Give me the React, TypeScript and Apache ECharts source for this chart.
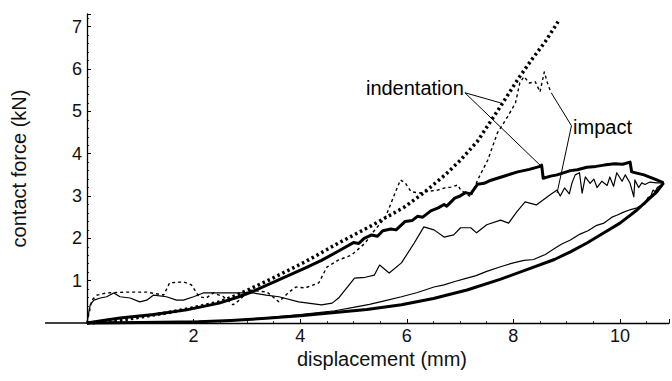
import React, { useEffect, useRef } from "react";
import * as echarts from "echarts";

// ---- data (displacement mm, contact force kN) ----
const xTickLabels = [2, 4, 6, 8, 10];
const yTickLabels = [1, 2, 3, 4, 5, 6, 7];

const indentationLoading: number[][] = [
  [0, 0], [0.3, 0.06], [0.62, 0.12], [1.25, 0.2], [1.87, 0.31], [2.48, 0.47], [2.85, 0.62],
  [3.12, 0.75], [3.47, 0.95], [4.1, 1.3], [4.4, 1.48], [4.72, 1.7], [5.0, 1.9], [5.1, 1.88],
  [5.2, 2.0], [5.34, 2.08], [5.45, 2.05], [5.55, 2.18], [5.7, 2.22], [5.8, 2.2], [5.97, 2.4],
  [6.1, 2.42], [6.2, 2.52], [6.3, 2.5], [6.45, 2.65], [6.59, 2.72], [6.7, 2.8], [6.75, 2.76],
  [6.9, 2.95], [7.0, 3.0], [7.1, 3.08], [7.2, 3.05], [7.33, 3.28], [7.45, 3.3], [7.55, 3.36],
  [7.7, 3.42], [7.85, 3.48], [8.08, 3.57], [8.3, 3.63], [8.5, 3.7], [8.53, 3.73], [8.56, 3.42],
  [8.7, 3.47], [8.82, 3.5], [9.07, 3.6], [9.2, 3.62], [9.38, 3.68], [9.55, 3.7], [9.7, 3.73],
  [9.9, 3.76], [10.05, 3.75], [10.19, 3.8], [10.22, 3.57], [10.45, 3.5], [10.69, 3.38], [10.82, 3.31],
];

const indentationUnloading: number[][] = [
  [10.82, 3.31], [10.69, 3.1], [10.5, 2.88], [10.32, 2.67], [10.0, 2.36], [9.7, 2.13], [9.38, 1.89],
  [9.07, 1.68], [8.77, 1.5], [8.38, 1.32], [7.75, 1.03], [7.13, 0.78], [6.5, 0.58], [5.9, 0.43],
  [5.25, 0.32], [4.6, 0.24], [4.0, 0.17], [3.36, 0.11], [2.7, 0.06], [2.1, 0.03], [1.0, 0.01], [0, 0],
];

const impactLoading: number[][] = [
  [0, 0], [0.04, 0.3], [0.06, 0.43], [0.13, 0.54], [0.25, 0.59], [0.37, 0.62], [0.5, 0.71],
  [0.62, 0.62], [0.81, 0.59], [0.99, 0.5], [1.12, 0.54], [1.25, 0.66], [1.49, 0.62], [1.68, 0.54],
  [1.81, 0.54], [2.0, 0.62], [2.18, 0.71], [2.48, 0.71], [2.8, 0.71], [3.12, 0.71], [3.36, 0.66],
  [3.6, 0.62], [3.97, 0.5], [4.4, 0.43], [4.6, 0.47], [4.72, 0.59], [5.02, 1.06], [5.22, 1.08],
  [5.39, 1.13], [5.49, 1.37], [5.67, 1.18], [5.9, 1.42], [6.14, 1.89], [6.32, 2.27], [6.51, 2.2],
  [6.7, 2.03], [6.88, 2.08], [7.01, 2.25], [7.2, 2.25], [7.31, 2.13], [7.5, 2.32], [7.76, 2.43],
  [7.91, 2.36], [8.06, 2.62], [8.22, 2.86], [8.43, 2.79], [8.69, 3.03], [8.82, 3.14], [8.88, 3.0],
  [8.96, 3.19], [9.05, 3.05], [9.1, 3.31], [9.16, 3.5], [9.24, 3.55], [9.29, 3.07], [9.35, 3.45],
  [9.44, 3.3], [9.51, 3.4], [9.57, 3.2], [9.66, 3.35], [9.76, 3.25], [9.81, 3.45], [9.88, 3.23],
  [9.94, 3.55], [10.04, 3.35], [10.1, 3.5], [10.19, 3.3], [10.26, 2.98], [10.28, 3.38], [10.35, 3.2],
  [10.41, 3.31], [10.47, 3.27], [10.56, 3.33], [10.69, 3.31], [10.82, 3.31],
];

const impactUnloading: number[][] = [
  [10.82, 3.31], [10.75, 3.24], [10.7, 3.2], [10.66, 3.1], [10.62, 3.14], [10.58, 3.0], [10.52, 2.96],
  [10.47, 2.82], [10.4, 2.78], [10.32, 2.72], [10.2, 2.68], [10.07, 2.62], [9.95, 2.55], [9.85, 2.5],
  [9.7, 2.36], [9.55, 2.3], [9.4, 2.18], [9.25, 2.1], [9.07, 1.96], [8.9, 1.86], [8.75, 1.74],
  [8.6, 1.62], [8.38, 1.5], [8.2, 1.48], [8.0, 1.42], [7.76, 1.33], [7.5, 1.22], [7.3, 1.12],
  [7.13, 1.06], [6.9, 0.98], [6.7, 0.9], [6.51, 0.85], [6.2, 0.72], [5.9, 0.62], [5.6, 0.53],
  [5.3, 0.44], [5.0, 0.37], [4.65, 0.29], [4.3, 0.24], [4.0, 0.2], [3.6, 0.15], [3.2, 0.1],
  [2.5, 0.05], [1.5, 0.02], [0.5, 0.0], [0, 0],
];

const indentationModel: number[][] = [
  [0, 0], [0.5, 0.04], [1, 0.14], [1.5, 0.24], [2, 0.36], [2.5, 0.5], [2.85, 0.68], [3.47, 1.05],
  [4.1, 1.45], [4.72, 1.89], [5.34, 2.3], [5.97, 2.75], [6.34, 3.1], [6.72, 3.5], [7.01, 3.85],
  [7.33, 4.3], [7.76, 5.12], [8.08, 5.75], [8.36, 6.25], [8.6, 6.65], [8.84, 7.12],
];

const impactModel: number[][] = [
  [0, 0], [0.09, 0.54], [0.19, 0.66], [0.37, 0.71], [0.75, 0.73], [1.12, 0.73], [1.44, 0.66],
  [1.55, 0.95], [1.81, 0.97], [1.96, 0.9], [2.1, 0.62], [2.24, 0.59], [2.37, 0.71], [2.56, 0.62],
  [2.74, 0.43], [2.86, 0.54], [3.04, 0.78], [3.38, 0.73], [3.6, 0.5], [3.79, 0.73], [3.92, 0.85],
  [4.1, 0.83], [4.35, 0.95], [4.5, 1.32], [4.72, 1.49], [4.96, 1.6], [5.22, 1.89], [5.37, 2.15],
  [5.6, 2.5], [5.78, 3.07], [5.88, 3.38], [5.97, 3.31], [6.08, 3.1], [6.25, 3.07], [6.34, 3.1],
  [6.58, 3.14], [6.71, 3.19], [6.83, 3.21], [6.96, 3.26], [7.01, 3.14], [7.2, 2.98], [7.33, 3.38],
  [7.52, 3.85], [7.7, 4.49], [7.89, 4.87], [8.04, 5.2], [8.12, 5.67], [8.2, 5.82], [8.3, 5.67],
  [8.41, 5.7], [8.5, 5.46], [8.58, 5.93], [8.64, 5.67], [8.7, 5.46],
];

// annotation anchors (data units)
const indentationLabelAt = [7.07, 5.56];
const indentationPointers: number[][][] = [
  [[7.09, 5.44], [7.76, 5.2]],
  [[7.09, 5.44], [8.5, 3.73]],
];
const impactLabelAt = [9.12, 4.63];
const impactPointers: number[][][] = [
  [[9.09, 4.66], [8.71, 5.44]],
  [[9.09, 4.66], [8.82, 3.07]],
];

const FONT = "'Liberation Sans', Arial, sans-serif";

export default function App() {
  const ref = useRef<HTMLDivElement>(null);
  useEffect(() => {
    const chart = echarts.init(ref.current!, null, { renderer: "svg" });
    const lineBase = (data: number[][], width: number, type: any = "solid") => ({
      type: "line",
      data,
      showSymbol: false,
      symbol: "none",
      smooth: false,
      silent: true,
      clip: false,
      lineStyle: { color: "#000", width, type, cap: "butt", join: "round" },
    });
    const pointerSeries = [...indentationPointers, ...impactPointers].map((seg) =>
      lineBase(seg, 1, "solid")
    );
    chart.setOption({
      animation: false,
      backgroundColor: "#fff",
      grid: { left: 87, right: 0, top: 14, bottom: 58, containLabel: false },
      xAxis: {
        type: "value",
        min: 0,
        max: 10.92,
        interval: 2,
        axisLine: { onZero: false, lineStyle: { color: "#000", width: 1.3 } },
        axisTick: { show: true, inside: true, length: 4, lineStyle: { color: "#000", width: 1 } },
        minorTick: { show: true, splitNumber: 4, length: 2, lineStyle: { color: "#000", width: 0.8 } },
        splitLine: { show: false },
        axisLabel: {
          fontSize: 18,
          fontFamily: FONT,
          color: "#111",
          margin: 4,
          formatter: (v: number) => (xTickLabels.includes(v) ? String(v) : ""),
        },
      },
      yAxis: {
        type: "value",
        min: 0,
        max: 7.3,
        interval: 1,
        name: "contact force (kN)",
        nameLocation: "middle",
        nameGap: 58,
        nameTextStyle: { fontSize: 20, fontFamily: FONT, color: "#111" },
        axisLine: { onZero: false, lineStyle: { color: "#000", width: 1.3 } },
        axisTick: { show: true, inside: true, length: 4, lineStyle: { color: "#000", width: 1 } },
        minorTick: { show: true, splitNumber: 5, length: 2, lineStyle: { color: "#000", width: 0.8 } },
        splitLine: { show: false },
        axisLabel: {
          fontSize: 18,
          fontFamily: FONT,
          color: "#111",
          margin: 5,
          formatter: (v: number) => (yTickLabels.includes(v) ? String(v) : ""),
        },
      },
      series: [
        lineBase(indentationUnloading, 3),
        lineBase(indentationLoading, 3),
        lineBase(impactUnloading, 1.2),
        lineBase(impactLoading, 1.2),
        lineBase(indentationModel, 3.5, [2.5, 3]),
        lineBase(impactModel, 1.4, [3, 3]),
        ...pointerSeries,
      ],
    });
    const pI = chart.convertToPixel({ gridIndex: 0 }, indentationLabelAt) as number[];
    const pM = chart.convertToPixel({ gridIndex: 0 }, impactLabelAt) as number[];
    const origin = chart.convertToPixel({ gridIndex: 0 }, [0, 0]) as number[];
    chart.setOption({
      graphic: [
        {
          type: "line",
          shape: { x1: 45, y1: origin[1], x2: origin[0], y2: origin[1] },
          style: { stroke: "#000", lineWidth: 1.3 },
        },
        {
          type: "text",
          x: pI[0],
          y: pI[1],
          style: {
            text: "indentation",
            font: `20px ${FONT}`,
            fill: "#000",
            textAlign: "right",
            textVerticalAlign: "middle",
          },
        },
        {
          type: "text",
          x: pM[0],
          y: pM[1],
          style: {
            text: "impact",
            font: `20px ${FONT}`,
            fill: "#000",
            textAlign: "left",
            textVerticalAlign: "middle",
          },
        },
        {
          type: "text",
          x: 382,
          y: 359,
          style: {
            text: "displacement (mm)",
            font: `20px ${FONT}`,
            fill: "#111",
            textAlign: "center",
            textVerticalAlign: "middle",
          },
        },
      ],
    });
    return () => chart.dispose();
  }, []);
  return (
    <div
      ref={ref}
      style={{ position: "absolute", left: 0, top: 0, width: 672, height: 381 }}
    />
  );
}
